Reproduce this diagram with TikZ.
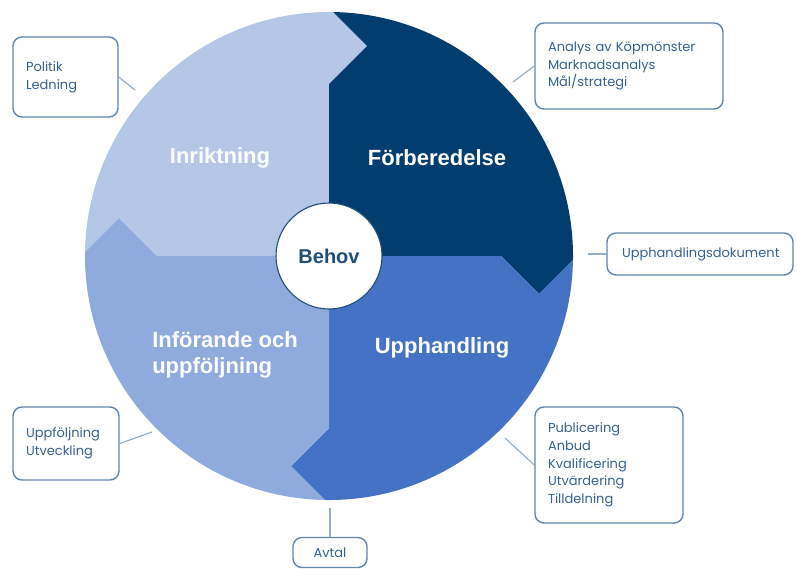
\documentclass[tikz,border=0pt]{standalone}
\usepackage{fontspec}
\setmainfont{Liberation Sans}
\newfontfamily\notefont{Poppins}
\usetikzlibrary{calc}
\definecolor{segA}{HTML}{B4C7E7}
\definecolor{segB}{HTML}{023D6F}
\definecolor{segC}{HTML}{4472C4}
\definecolor{segD}{HTML}{8FAADC}
\definecolor{hub}{HTML}{1F4E79}
\definecolor{noteline}{HTML}{6286A9}
\definecolor{notetext}{HTML}{36628F}
\definecolor{leader}{HTML}{94AEC6}
\begin{document}
\begin{tikzpicture}[x=1pt,y=-1pt,
  phase/.style={text=white, font=\bfseries\fontsize{22}{26}\selectfont, align=left, inner sep=0pt},
  note/.style={draw=noteline, line width=1.4pt, rounded corners=9pt, fill=white,
    text=notetext, font=\notefont\fontsize{13}{17.7}\selectfont, align=left,
    inner xsep=13pt, inner ysep=0pt},
  leaderline/.style={draw=leader, line width=1.2pt}]
\useasboundingbox (0,0) rectangle (797,568);
% wheel centre, radius, arrow tip distance and half width
\def\ccx{329}\def\ccy{256}\def\cR{244}\def\tipd{210}\def\tipw{38}
\begin{scope}
  \clip (\ccx,\ccy) circle (\cR);
  % Inriktning (top left)
  \fill[segA] (\ccx-300,\ccy) -- (\ccx-\tipd-\tipw,\ccy) -- (\ccx-\tipd,\ccy-\tipw)
    -- (\ccx-\tipd+\tipw,\ccy) -- (\ccx,\ccy) -- (\ccx,\ccy-\tipd+\tipw)
    -- (\ccx+\tipw,\ccy-\tipd) -- (\ccx,\ccy-\tipd-\tipw) -- (\ccx,\ccy-300)
    -- (\ccx-300,\ccy-300) -- cycle;
  % Förberedelse (top right)
  \fill[segB] (\ccx,\ccy-300) -- (\ccx,\ccy-\tipd-\tipw) -- (\ccx+\tipw,\ccy-\tipd)
    -- (\ccx,\ccy-\tipd+\tipw) -- (\ccx,\ccy) -- (\ccx+\tipd-\tipw,\ccy)
    -- (\ccx+\tipd,\ccy+\tipw) -- (\ccx+\tipd+\tipw,\ccy) -- (\ccx+300,\ccy)
    -- (\ccx+300,\ccy-300) -- cycle;
  % Upphandling (bottom right)
  \fill[segC] (\ccx+300,\ccy) -- (\ccx+\tipd+\tipw,\ccy) -- (\ccx+\tipd,\ccy+\tipw)
    -- (\ccx+\tipd-\tipw,\ccy) -- (\ccx,\ccy) -- (\ccx,\ccy+\tipd-\tipw)
    -- (\ccx-\tipw,\ccy+\tipd) -- (\ccx,\ccy+\tipd+\tipw) -- (\ccx,\ccy+300)
    -- (\ccx+300,\ccy+300) -- cycle;
  % Införande och uppföljning (bottom left)
  \fill[segD] (\ccx,\ccy+300) -- (\ccx,\ccy+\tipd+\tipw) -- (\ccx-\tipw,\ccy+\tipd)
    -- (\ccx,\ccy+\tipd-\tipw) -- (\ccx,\ccy) -- (\ccx-\tipd+\tipw,\ccy)
    -- (\ccx-\tipd,\ccy-\tipw) -- (\ccx-\tipd-\tipw,\ccy) -- (\ccx-300,\ccy)
    -- (\ccx-300,\ccy+300) -- cycle;
\end{scope}

% phase labels
\node[phase] (inr)  at (220,158) {Inriktning};
\node[phase] (forb) at (437,158) {Förberedelse};
\node[phase] (upph) at (442,348) {Upphandling};
\node[phase] (inf)  at (225,355) {Införande och\\uppföljning};

% hub
\node[circle, draw=hub, line width=1.1pt, fill=white, minimum size=106pt, inner sep=0pt,
  text=hub, font=\bfseries\fontsize{20}{24}\selectfont] (behov) at (\ccx,\ccy) {Behov};

% callouts
\node[note, minimum width=105pt, minimum height=80pt, text width=79pt] (pol) at (65.5,77) {Politik\\Ledning};
\node[note, minimum height=86pt, text width=162pt] (anl) at (629,66) {Analys av Köpmönster\\Marknadsanalys\\Mål/strategi};
\node[note, minimum height=42pt, text width=156pt, inner xsep=15pt, align=center] (dok) at (700,254) {Upphandlingsdokument};
\node[note, minimum height=73pt, text width=80pt] (upf) at (66,443.5) {Uppföljning\\Utveckling};
\node[note, minimum height=116pt, text width=122pt] (pub) at (609,465) {Publicering\\Anbud\\Kvalificering\\Utvärdering\\Tilldelning};
\node[note, minimum height=30pt, text width=48pt, align=center] (avt) at (330,552.5) {Avtal};

% leader lines
\coordinate (polend) at (135,90);
\coordinate (anlend) at (513,82);
\coordinate (dokend) at (588,254);
\coordinate (upfend) at (152,432);
\coordinate (pubend) at (505,438);
\coordinate (avtend) at (330,508);
\draw[leaderline] (pol.east) -- (polend);
\draw[leaderline] (anl.west) -- (anlend);
\draw[leaderline] (dok.west) -- (dokend);
\draw[leaderline] (upf.east) -- (upfend);
\draw[leaderline] (pub.west) -- (pubend);
\draw[leaderline] (avt.north) -- (avtend);
\end{tikzpicture}
\end{document}
